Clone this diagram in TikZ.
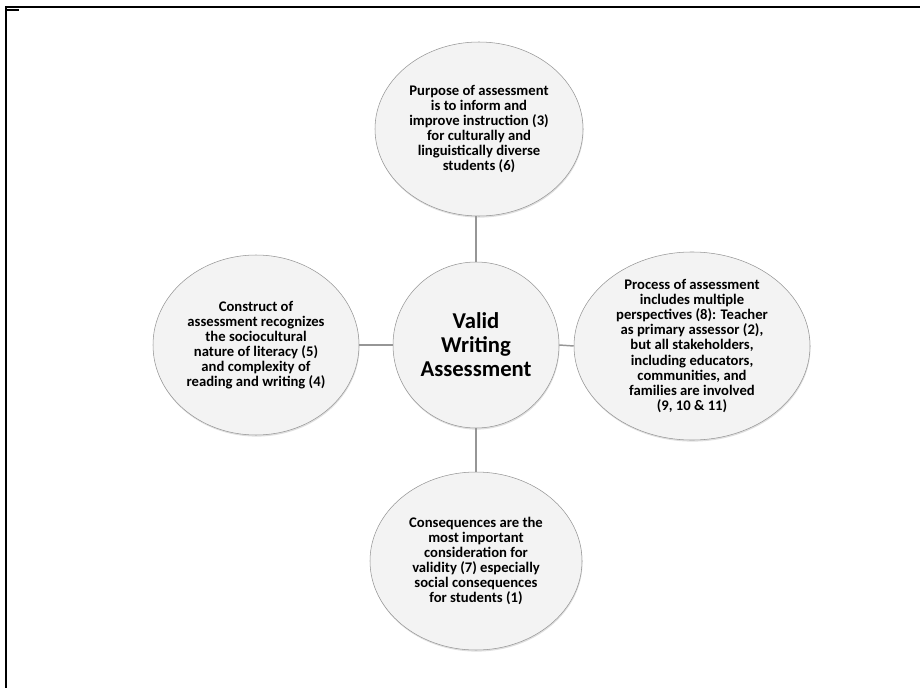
\documentclass[tikz,border=0pt]{standalone}
\usepackage{fontspec}
\setmainfont{Carlito}
\definecolor{bubbleFill}{RGB}{243,243,243}
\definecolor{bubbleLine}{RGB}{150,150,150}
\usetikzlibrary{
    shapes.geometric,
    shadows
}
\tikzset{
    mindMap/.style={
        bubble/.style={
            ellipse,
            draw=bubbleLine,
            fill=bubbleFill,
            inner sep=0pt,
            align=center,
            font=\bfseries\fontsize{11}{11.3}\selectfont,
            drop shadow={shadow xshift=0.4pt, shadow yshift=-1.2pt, opacity=0.25},
        },
        hub/.style={
            circle,
            draw=bubbleLine,
            fill=bubbleFill,
            inner sep=0pt,
            minimum size=124.5pt,
            align=center,
            font=\bfseries\fontsize{17}{18}\selectfont,
            drop shadow={shadow xshift=0.4pt, shadow yshift=-1.2pt, opacity=0.25},
        },
    }
}

\begin{document}
\begin{tikzpicture}[mindMap, x=0.75pt, y=-0.75pt]
    \useasboundingbox (0,0) rectangle (920,688);
    % frame
    \draw[line width=1.2pt] (6,688) -- (6,7) -- (920,7);
    \draw[line width=2pt] (6,10) -- (19,10);

    \begin{scope}
        \node[hub] (valid) at (476,345) {Valid\\Writing\\Assessment};
        \node[bubble, minimum width=156pt, minimum height=130.5pt] (purpose) at (479,129)
            {Purpose of assessment\\is to inform and\\improve instruction (3)\\for culturally and\\linguistically diverse\\students (6)};
        \node[bubble, minimum width=154.5pt, minimum height=135pt] (construct) at (256,345)
            {Construct of\\assessment recognizes\\the sociocultural\\nature of literacy (5)\\and complexity of\\reading and writing (4)};
        \node[bubble, minimum width=177pt, minimum height=141pt] (process) at (692,346)
            {Process of assessment\\includes multiple\\perspectives (8): Teacher\\as primary assessor (2),\\but all stakeholders,\\including educators,\\communities, and\\families are involved\\(9, 10 \& 11)};
        \node[bubble, minimum width=159pt, minimum height=133.5pt] (consequences) at (476,561)
            {Consequences are the\\most important\\consideration for\\validity (7) especially\\social consequences\\for students (1)};
    \end{scope}

    \begin{scope}[every edge/.style={draw=bubbleLine, line width=1.1pt}]
        \path (valid.north) edge (valid.north |- purpose.south);
        \path (valid.south) edge (valid.south |- consequences.north);
        \path (valid.west) edge (construct.east);
        \path (valid.east) edge (process.west);
    \end{scope}
\end{tikzpicture}
\end{document}
